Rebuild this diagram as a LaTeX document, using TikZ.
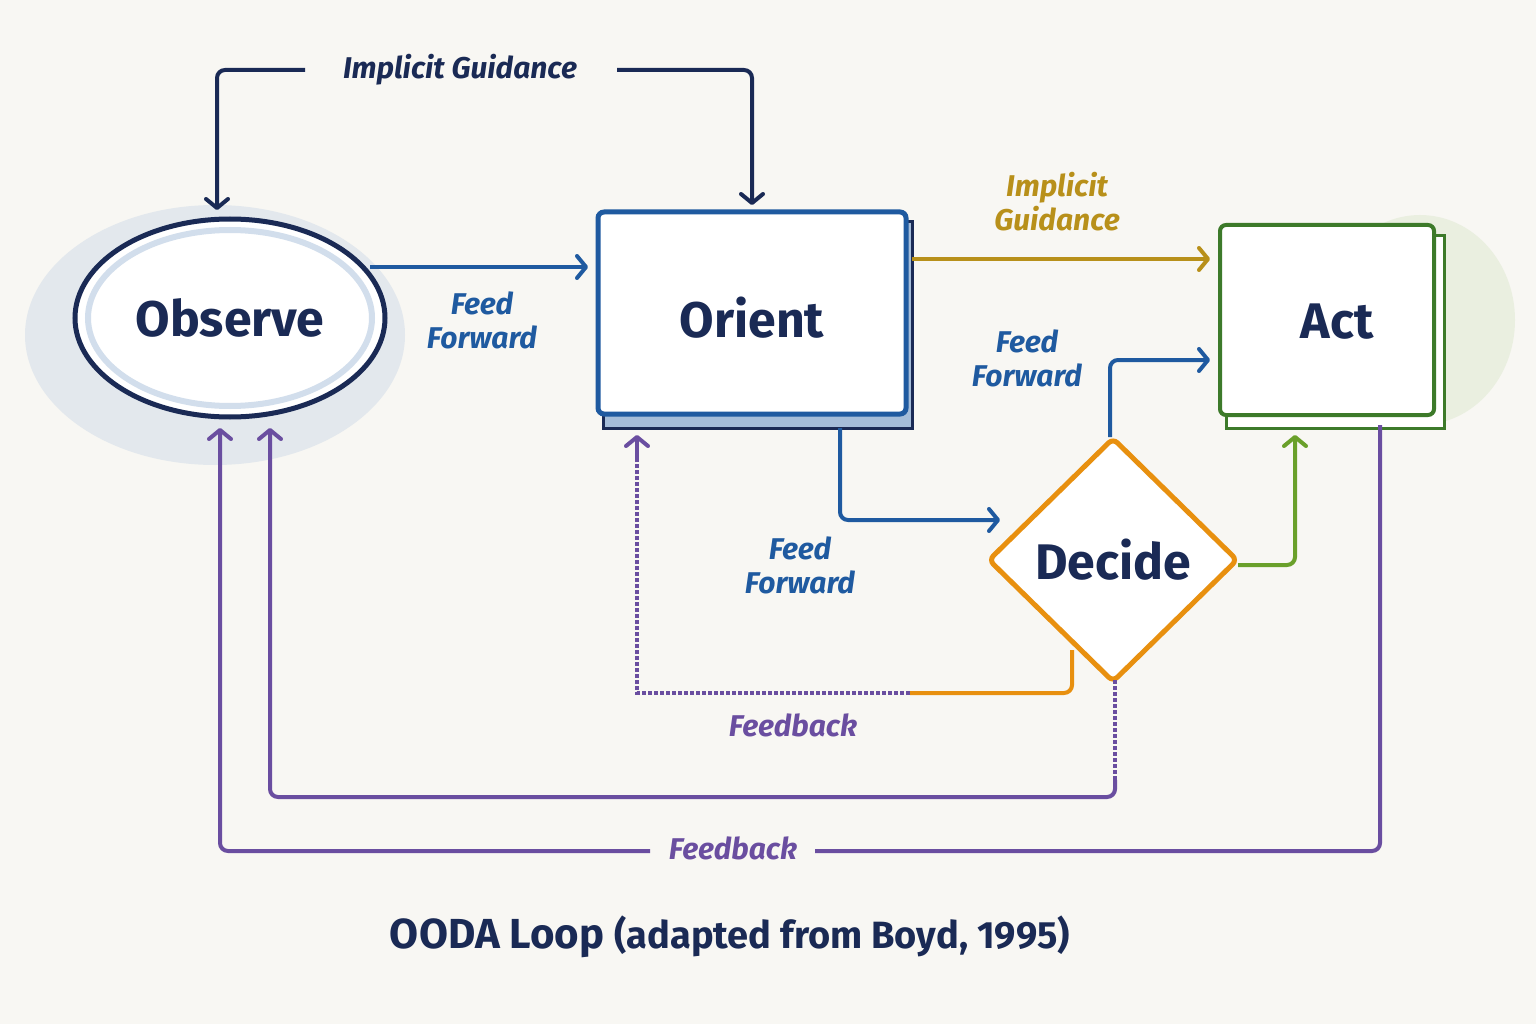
\documentclass[tikz,border=0pt]{standalone}
\usepackage{fontspec}
\setmainfont{Fira Sans}
\usetikzlibrary{arrows.meta,shapes.geometric}
\definecolor{bg}{HTML}{F8F7F3}
\definecolor{navy}{HTML}{1A2A55}
\definecolor{cblue}{HTML}{1F5AA0}
\definecolor{gold}{HTML}{B8901A}
\definecolor{cgreen}{HTML}{3D7A2A}
\definecolor{lgreen}{HTML}{6AA02A}
\definecolor{corange}{HTML}{E8900F}
\definecolor{purp}{HTML}{6A4EA0}
\begin{document}
\begin{tikzpicture}[x=1pt,y=-1pt,
  arr/.style={line width=4pt,rounded corners=8pt,-{Straight Barb[length=9pt,width=22pt,round]}},
  ln/.style={line width=4pt,rounded corners=8pt},
  dot/.style={line width=4pt,dotted},
  lab/.style={font=\fontsize{30}{34}\selectfont\bfseries\itshape,align=center},
  big/.style={font=\fontsize{50}{52}\selectfont\bfseries,text=navy}]
\useasboundingbox (0,0) rectangle (1536,1024);
\fill[bg] (0,0) rectangle (1536,1024);
% glows
\fill[cblue!30,opacity=0.35] (215,335) ellipse (190 and 130);
\fill[lgreen!30,opacity=0.35] (1420,320) ellipse (95 and 105);
% nodes
\node[ellipse,draw=navy,line width=5pt,fill=white,minimum width=310pt,minimum height=198pt] (obs) at (230,318) {};
\draw[cblue!20,line width=6pt] (230,318) ellipse (142 and 88);
\node[big] at (230,318) {Observe};
\fill[cblue!40] (603,222) rectangle (912,428);
\draw[navy,line width=3pt] (603,222) rectangle (912,428);
\node[draw=cblue,line width=5pt,fill=white,rounded corners=6pt,minimum width=308pt,minimum height=202pt] (ori) at (752,313) {};
\node[big] at (752,318) {Orient};
\draw[cgreen,line width=3pt,fill=white] (1226,236) rectangle (1444,428);
\node[draw=cgreen,line width=4pt,fill=white,rounded corners=6pt,minimum width=214pt,minimum height=190pt] (act) at (1327,320) {};
\node[big] at (1337,322) {Act};
\node[diamond,draw=corange,line width=5pt,fill=white,rounded corners=6pt,minimum width=250pt,minimum height=245pt] (dec) at (1113,560) {};
\node[big] at (1113,560) {Decide};
% connectors
\draw[arr,navy] (305,70) -- (217,70) -- (217,210);
\draw[arr,navy] (617,70) -- (752,70) -- (752,205);
\node[lab,text=navy] at (460,70) {Implicit Guidance};
\draw[arr,cblue] (370,267) -- (588,267);
\node[lab,text=cblue] at (482,320) {Feed\\Forward};
\draw[arr,gold] (912,259) -- (1210,259);
\node[lab,text=gold] at (1057,202) {Implicit\\Guidance};
\draw[arr,cblue] (1110,437) -- (1110,360) -- (1210,360);
\node[lab,text=cblue] at (1027,358) {Feed\\Forward};
\draw[arr,cblue] (840,428) -- (840,520) -- (1000,520);
\node[lab,text=cblue] at (800,565) {Feed\\Forward};
\draw[arr,lgreen] (1238,565) -- (1295,565) -- (1295,435);
\draw[ln,corange] (1072,650) -- (1072,693) -- (910,693);
\draw[dot,purp] (910,693) -- (637,693) -- (637,460);
\draw[arr,purp] (637,462) -- (637,435);
\node[lab,text=purp] at (793,725) {Feedback};
\draw[dot,purp] (1115,680) -- (1115,780);
\draw[arr,purp] (1115,780) -- (1115,797) -- (270,797) -- (270,428);
\draw[ln,purp] (1380,425) -- (1380,851) -- (815,851);
\draw[arr,purp] (650,851) -- (220,851) -- (220,428);
\node[lab,text=purp] at (733,848) {Feedback};
\node[font=\fontsize{42}{44}\selectfont\bfseries,text=navy] at (730,937) {OODA Loop {\fontsize{38}{40}\selectfont(adapted from Boyd, 1995)}};
\end{tikzpicture}
\end{document}
